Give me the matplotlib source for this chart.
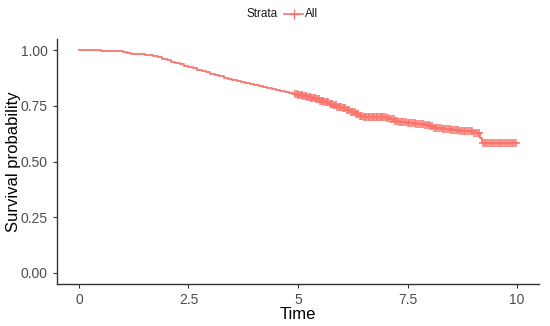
import numpy as np
import matplotlib.pyplot as plt
from matplotlib.lines import Line2D

plt.rcParams['font.family'] = ['Liberation Sans', 'DejaVu Sans']

# Kaplan-Meier estimate (step points)
event_times = [0, 0.5, 0.8, 1.0, 1.1, 1.2, 1.5, 1.7, 1.8, 1.9, 2.0, 2.1, 2.2, 2.3,
               2.4, 2.5, 2.6, 2.7, 2.8, 2.9, 3.0, 3.1, 3.2, 3.3, 3.4, 3.5, 3.6,
               3.7, 3.8, 3.9, 4.0, 4.1, 4.2, 4.3, 4.4, 4.5, 4.6, 4.7, 4.8, 4.9,
               5.0, 5.1, 5.2, 5.3, 5.4, 5.5, 5.6, 5.7, 5.8, 5.9, 6.0, 6.1, 6.2,
               6.3, 6.4, 6.5, 6.8, 7.0, 7.1, 7.2, 7.3, 7.5, 7.7, 7.9, 8.0, 8.1,
               8.3, 8.5, 8.7, 9.0, 9.15, 9.2]
surv = [1.0, 0.998, 0.995, 0.99, 0.985, 0.982, 0.98, 0.975, 0.968, 0.962, 0.955,
        0.948, 0.942, 0.936, 0.93, 0.924, 0.918, 0.912, 0.906, 0.9, 0.895, 0.889,
        0.883, 0.877, 0.871, 0.866, 0.861, 0.856, 0.851, 0.846, 0.842, 0.838,
        0.834, 0.83, 0.826, 0.822, 0.817, 0.812, 0.807, 0.803, 0.799, 0.794,
        0.789, 0.784, 0.779, 0.773, 0.766, 0.759, 0.752, 0.745, 0.738, 0.73,
        0.722, 0.714, 0.706, 0.702, 0.70, 0.697, 0.69, 0.683, 0.678, 0.674,
        0.668, 0.663, 0.658, 0.652, 0.645, 0.641, 0.636, 0.628, 0.605, 0.585]
t_end = 10.0

# censored observations
censor_times = [4.93, 4.97, 5.0, 5.03, 5.06, 5.09, 5.12, 5.15, 5.18, 5.21, 5.24,
                5.27, 5.3, 5.33, 5.36, 5.39, 5.42, 5.45, 5.48, 5.51, 5.54, 5.57,
                5.6, 5.63, 5.66, 5.69, 5.72, 5.75, 5.78, 5.81, 5.84, 5.87, 5.9,
                5.93, 5.96, 5.99, 6.02, 6.05, 6.08, 6.11, 6.14, 6.17, 6.2, 6.23,
                6.26, 6.29, 6.32, 6.35, 6.38, 6.41, 6.44, 6.47, 6.5, 6.53, 6.56,
                6.59, 6.62, 6.65, 6.68, 6.71, 6.74, 6.77, 6.8, 6.83, 6.86, 6.89,
                6.92, 6.95, 6.98, 7.02, 7.06, 7.1, 7.14, 7.18, 7.22, 7.26, 7.3,
                7.34, 7.38, 7.42, 7.46, 7.5, 7.54, 7.58, 7.62, 7.66, 7.7, 7.74,
                7.78, 7.82, 7.86, 7.9, 7.94, 7.98, 8.02, 8.06, 8.1, 8.14, 8.18,
                8.22, 8.26, 8.3, 8.34, 8.38, 8.42, 8.46, 8.5, 8.54, 8.58, 8.62,
                8.66, 8.7, 8.74, 8.78, 8.82, 8.86, 8.9, 8.94, 8.98, 9.02, 9.06,
                9.1, 9.13, 9.22, 9.26, 9.3, 9.34, 9.38, 9.42, 9.46, 9.5, 9.54,
                9.58, 9.62, 9.66, 9.7, 9.74, 9.78, 9.82, 9.86, 9.9, 9.94, 9.98]

col = '#F8766D'

fig = plt.figure(figsize=(5.5, 3.26), dpi=100)
ax = fig.add_axes([57 / 550, 1 - 284 / 326, 482 / 550, 245 / 326])

ax.step(event_times + [t_end], surv + [surv[-1]], where='post', color=col, lw=1.3)
idx = np.searchsorted(event_times, censor_times, side='right') - 1
ax.plot(censor_times, np.array(surv)[idx], ls='none', marker='+', ms=6,
        mew=1.1, color=col)

ax.set_xlim(-0.5, 10.5)
ax.set_ylim(-0.05, 1.05)
ax.set_xticks([0, 2.5, 5, 7.5, 10])
ax.set_xticklabels(['0', '2.5', '5', '7.5', '10'])
ax.set_yticks([0, 0.25, 0.5, 0.75, 1.0])
ax.set_yticklabels(['0.00', '0.25', '0.50', '0.75', '1.00'])
for s in ['top', 'right']:
    ax.spines[s].set_visible(False)
for s in ['left', 'bottom']:
    ax.spines[s].set_color('#333333')
    ax.spines[s].set_linewidth(1.0)
ax.tick_params(colors='#333333', labelcolor='#4d4d4d', labelsize=10,
               length=3, width=0.8)
ax.set_xlabel('Time', fontsize=12, labelpad=0)
ax.set_ylabel('Survival probability', fontsize=12, labelpad=0)

# legend at top
fig.text(278 / 550, 1 - 14 / 326, 'Strata', fontsize=8.5, va='center', ha='right',
         color='#1a1a1a')
fig.add_artist(Line2D([284 / 550, 303 / 550], [1 - 14 / 326] * 2, color=col,
                      lw=1.2, transform=fig.transFigure))
fig.add_artist(Line2D([293.5 / 550], [1 - 14 / 326], color=col, marker='+',
                      ms=7, mew=1, transform=fig.transFigure))
fig.text(305 / 550, 1 - 14 / 326, 'All', fontsize=8.5, va='center', ha='left',
         color='#1a1a1a')

fig.savefig('out.png', dpi=100)
